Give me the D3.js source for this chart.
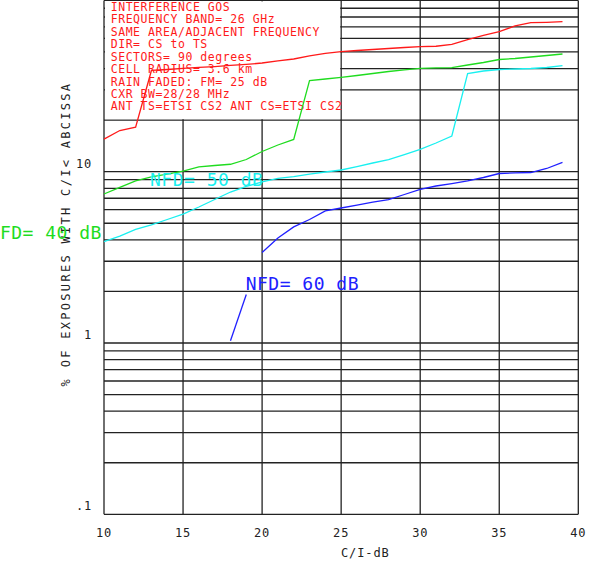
<!DOCTYPE html>
<html><head><meta charset="utf-8">
<script src="https://cdn.jsdelivr.net/npm/d3@7"></script>
<style>html,body{margin:0;padding:0;background:#fff;}svg{display:block}</style>
</head><body>
<svg id="c" width="589" height="562"></svg>
<script>
// ---- data ----
const ciDb = [10,11,12,13,14,15,16,17,18,19,20,21,22,23,24,25,26,27,28,29,30,31,32,33,34,35,36,37,38,39];
const nfdRedSeries = [15.5,17.4,18.2,39.0,39.5,40.1,40.6,41.1,41.7,42.3,43.1,44.3,45.5,47.4,49.0,50.2,51.0,51.7,52.4,53.1,53.7,54.0,55.3,59.1,62.4,65.8,70.9,74.1,74.5,75.1];
const nfd40 = [7.41,8.11,8.83,9.33,9.69,10.09,10.67,10.87,11.05,11.78,13.12,14.32,15.42,34.07,34.77,35.57,36.44,37.44,38.46,39.25,40.15,40.32,40.48,41.97,43.40,45.19,45.80,46.73,47.68,48.65];
const nfd50 = [3.91,4.21,4.60,4.89,5.26,5.66,6.22,6.88,7.61,8.20,8.71,9.13,9.35,9.68,9.96,10.23,10.72,11.24,11.78,12.60,13.51,14.71,16.16,37.44,38.72,39.51,39.77,40.04,40.59,41.58];
const nfd60Ci = [18,19,20,21,22,23,24,25,26,27,28,29,30,31,32,33,34,35,36,37,38,39];
const nfd60 = [1.03,1.92,3.38,4.10,4.76,5.26,5.90,6.14,6.39,6.65,6.88,7.36,7.89,8.25,8.53,8.83,9.25,9.76,9.85,9.89,10.44,11.35];
const nfd60BreakAfter = [19];
const xTicks = [10,15,20,25,30,35,40];
const yTicks = [0.1,1,10];
const yTickText = [".1","1","10"];
const legendLines = [
  "INTERFERENCE GOS",
  "FREQUENCY BAND= 26 GHz",
  "SAME AREA/ADJACENT FREQUENCY",
  "DIR= CS to TS",
  "SECTORS= 90 degrees",
  "CELL RADIUS= 3.6 km",
  "RAIN FADED: FM= 25 dB",
  "CXR BW=28/28 MHz",
  "ANT TS=ETSI CS2 ANT CS=ETSI CS2"
];
const seriesLabels = ["NFD= 40 dB","NFD= 50 dB","NFD= 60 dB"];
const xTitle = "C/I-dB";
const yTitle = "% OF EXPOSURES WITH C/I< ABCISSA";

// ---- drawing ----
const svg = d3.select("#c");
const FONT = "'DejaVu Sans Mono', monospace";
const x = d3.scaleLinear().domain([10,40]).range([104,578.3]);
const y = d3.scaleLog().domain([0.1,100]).range([514.3,0.4]);
const gridColor = "#222";

// horizontal grid (log minor lines)
const hVals = [];
[0.1,1,10].forEach(d => { for (let k=1;k<=9;k++) hVals.push(d*k); });
hVals.push(100);
svg.append("g").selectAll("line").data(hVals).join("line")
  .attr("x1", x(10)).attr("x2", x(40))
  .attr("y1", d => y(d)).attr("y2", d => y(d))
  .attr("stroke", gridColor).attr("stroke-width", 1.3);
// vertical grid
svg.append("g").selectAll("line").data(xTicks).join("line")
  .attr("x1", d => x(d)).attr("x2", d => x(d))
  .attr("y1", y(100)).attr("y2", y(0.1))
  .attr("stroke", gridColor).attr("stroke-width", 1.3);

// legend box (white, bounded by the grid lines)
svg.append("rect")
  .attr("x", x(10)+1).attr("y", y(100)+1)
  .attr("width", x(25)-x(10)-2).attr("height", y(20)-y(100)-2)
  .attr("fill", "#fff");
svg.append("g").selectAll("text").data(legendLines).join("text")
  .attr("x", x(10)+6.7).attr("y", (d,i) => 11 + i*12.42)
  .attr("font-family", FONT).attr("font-size", 11.5).attr("letter-spacing", 0.55)
  .attr("fill", "#ff1a1a").text(d => d);

// tick labels
svg.append("g").selectAll("text").data(xTicks).join("text")
  .attr("x", d => x(d)).attr("y", 537)
  .attr("text-anchor", "middle")
  .attr("font-family", FONT).attr("font-size", 12).attr("letter-spacing", 0.8)
  .attr("fill", "#222").text(d => String(d));
svg.append("g").selectAll("text").data(yTicks).join("text")
  .attr("x", 92).attr("y", d => y(d) - 4)
  .attr("text-anchor", "end")
  .attr("font-family", FONT).attr("font-size", 12).attr("letter-spacing", 0.8)
  .attr("fill", "#222").text((d,i) => yTickText[i]);

// axis titles
svg.append("text").attr("x", 341).attr("y", 557)
  .attr("font-family", FONT).attr("font-size", 12).attr("letter-spacing", 0.9)
  .attr("fill", "#222").text(xTitle);
svg.append("text")
  .attr("transform", "translate(70,234) rotate(-90)")
  .attr("text-anchor", "middle")
  .attr("font-family", FONT).attr("font-size", 12).attr("letter-spacing", 2.3)
  .attr("fill", "#222").text(yTitle);

// curves
const line = d3.line().x(d => x(d[0])).y(d => y(d[1]));
function drawSeries(xs, vs, color, breaks) {
  const segs = [];
  let cur = [];
  xs.forEach((c,i) => {
    cur.push([c, vs[i]]);
    if (breaks && breaks.includes(c)) { segs.push(cur); cur = []; }
  });
  if (cur.length) segs.push(cur);
  svg.append("g").selectAll("path").data(segs).join("path")
    .attr("d", line).attr("fill", "none")
    .attr("stroke", color).attr("stroke-width", 1.3);
}
drawSeries(ciDb, nfdRedSeries, "#ff1a1a");
drawSeries(ciDb, nfd40, "#1fdc1f");
drawSeries(ciDb, nfd50, "#19f0f0");
drawSeries(nfd60Ci, nfd60, "#2020ff", nfd60BreakAfter);

// series labels
const lab = (t, cx, cy, color, anchor) => svg.append("text")
  .attr("x", x(cx)).attr("y", y(cy)).attr("text-anchor", anchor)
  .attr("font-family", FONT).attr("font-size", 18).attr("letter-spacing", 0.5)
  .attr("fill", color).text(t);
lab(seriesLabels[0], 9.87, 4.03, "#1fdc1f", "end");
lab(seriesLabels[1], 12.91, 8.28, "#19f0f0", "start");
lab(seriesLabels[2], 18.96, 2.05, "#2020ff", "start");
</script>
</body></html>
